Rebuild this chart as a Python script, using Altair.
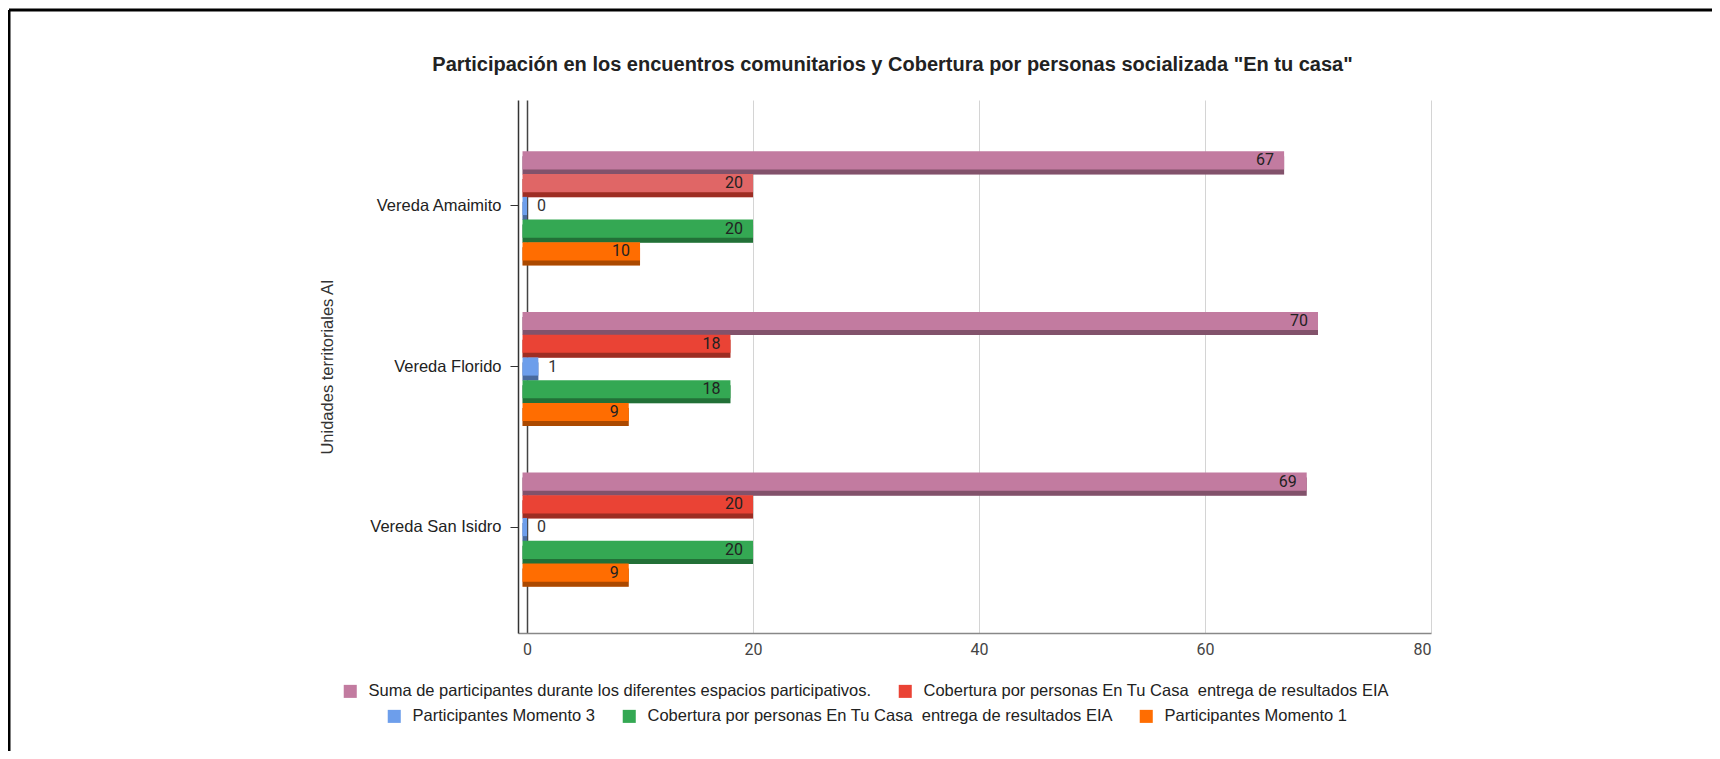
import altair as alt
import pandas as pd

# ---------------- data ----------------
categories = ["Vereda Amaimito", "Vereda Florido", "Vereda San Isidro"]
series_ids = ["s1", "s2", "s3", "s4", "s5"]
series_names = [
    "Suma de participantes durante los diferentes espacios participativos.",
    "Cobertura por personas En Tu Casa  entrega de resultados EIA",
    "Participantes Momento 3",
    "Cobertura por personas En Tu Casa  entrega de resultados EIA",
    "Participantes Momento 1",
]
series_colors = ["#c27ba0", "#ea4335", "#6d9eeb", "#34a853", "#ff6d01"]

suma_participantes = [67, 70, 69]
cobertura_rojo = [20, 18, 20]
momento_3 = [0, 1, 0]
cobertura_verde = [20, 18, 20]
momento_1 = [10, 9, 9]

x_ticks = [0, 20, 40, 60, 80]
bar_base = -0.4  # Google 3D bars start just left of the zero line

series_values = [suma_participantes, cobertura_rojo, momento_3, cobertura_verde, momento_1]
rows = []
for i, cat in enumerate(categories):
    for sid, vals in zip(series_ids, series_values):
        rows.append({"cat": cat, "sid": sid, "value": vals[i]})
df = pd.DataFrame(rows)

# keep the double space visible in SVG text
shown_names = [n.replace("  ", " \u00a0") for n in series_names]
label_expr = "{" + ", ".join(f"'{i}': '{n}'" for i, n in zip(series_ids, shown_names)) + "}[datum.label]"

FONT = "Liberation Sans"

x_enc = alt.X(
    "value:Q",
    scale=alt.Scale(domain=[-0.8, 80], nice=False),
    axis=alt.Axis(
        values=x_ticks, title=None, ticks=False, labelFont="Roboto", labelFontSize=16,
        labelColor="#444", labelPadding=8, domainColor="#888", domainWidth=1.5,
        grid=True,
        gridColor={"condition": {"test": "datum.value === 0", "value": "#444"}, "value": "#d4d4d4"},
        gridWidth={"condition": {"test": "datum.value === 0", "value": 1.5}, "value": 1},
    ),
)
y_enc = alt.Y(
    "cat:N", sort=categories,
    scale=alt.Scale(type="band", paddingInner=0.32, paddingOuter=0.32),
    axis=alt.Axis(
        title="Unidades territoriales AI", titleFont=FONT, titleFontSize=16.5,
        titleFontWeight="normal", titleColor="#333", titlePadding=34,
        labelFont=FONT, labelFontSize=16.5, labelColor="#222", labelPadding=9,
        tickSize=8, tickColor="#333", domainColor="#333", domainWidth=1.5, grid=False,
    ),
)


def yoff(shift=0):
    if shift:
        sc = alt.Scale(type="band", domain=series_ids, paddingInner=0.2, paddingOuter=0,
                       range=[shift, {"expr": f"bandwidth('y') + {shift}"}])
    else:
        sc = alt.Scale(type="band", domain=series_ids, paddingInner=0.2, paddingOuter=0)
    return alt.YOffset("sid:N", scale=sc)


def group(ids, legend_x, legend_y):
    cols = [series_colors[series_ids.index(i)] for i in ids]
    cscale = alt.Scale(domain=ids, range=cols)
    leg = alt.Legend(
        orient="none", legendX=legend_x, legendY=legend_y, direction="horizontal",
        title=None, labelExpr=label_expr, labelFont=FONT, labelFontSize=16.5,
        labelColor="#222", labelLimit=0, symbolType="square", symbolSize=170,
        symbolStrokeWidth=0, labelOffset=10, columnPadding=25,
    )
    pred = alt.FieldOneOfPredicate(field="sid", oneOf=ids)
    sh = alt.Chart(df).transform_filter(pred).encode(
        x=x_enc, x2=alt.datum(bar_base), y=y_enc, yOffset=yoff(5)
    )
    shadow = sh.mark_bar().encode(color=alt.Color("sid:N", scale=cscale, legend=leg))
    dark = sh.mark_bar(color="black", opacity=0.33)
    main = alt.Chart(df).transform_filter(pred).encode(
        x=x_enc, x2=alt.datum(bar_base), y=y_enc, yOffset=yoff()
    ).mark_bar().encode(
        color=alt.condition(
            "datum.cat === 'Vereda Amaimito' && datum.sid === 's2'",
            alt.value("#e06666"),
            alt.Color("sid:N", scale=cscale, legend=leg),
        )
    )
    return alt.layer(shadow, dark, main).resolve_scale(yOffset="independent")


grp_a = group(["s1", "s2"], -176, 583)
grp_b = group(["s3", "s4", "s5"], -132, 608)

base = alt.Chart(df).encode(x=x_enc, y=y_enc, yOffset=yoff())
txt_in = base.transform_filter("datum.value >= 5").mark_text(
    align="right", baseline="middle", dx=-10, font="Roboto", fontSize=16, color="#222"
).encode(text="value:Q")
txt_out = base.transform_filter("datum.value < 5").mark_text(
    align="left", baseline="middle", dx=10, font="Roboto", fontSize=16, color="#333"
).encode(text="value:Q")

frame_data = alt.Chart(pd.DataFrame({"k": [0]}))
frame_top = frame_data.mark_rule(color="black", strokeWidth=3).encode(
    x=alt.value(-509), x2=alt.value(1200), y=alt.value(-90)
)
frame_left = frame_data.mark_rule(color="black", strokeWidth=3).encode(
    x=alt.value(-509), y=alt.value(-90), y2=alt.value(700)
)

chart = (
    alt.layer(grp_a, grp_b, txt_in, txt_out, frame_top, frame_left)
    .resolve_scale(color="independent", yOffset="independent")
    .properties(
        width=913, height=533,
        padding={"left": 510, "top": 92, "right": 281, "bottom": 118},
        autosize=alt.AutoSizeParams(type="none"),
        title=alt.TitleParams(
            'Participación en los encuentros comunitarios y Cobertura por personas socializada "En tu casa"',
            font=FONT, fontSize=20, fontWeight="bold", color="#222",
            anchor="middle", frame="group", dx=-82, offset=-66,
        ),
    )
    .configure_view(stroke=None)
)

chart.save("out.html", embed_options={"renderer": "svg", "actions": False})
